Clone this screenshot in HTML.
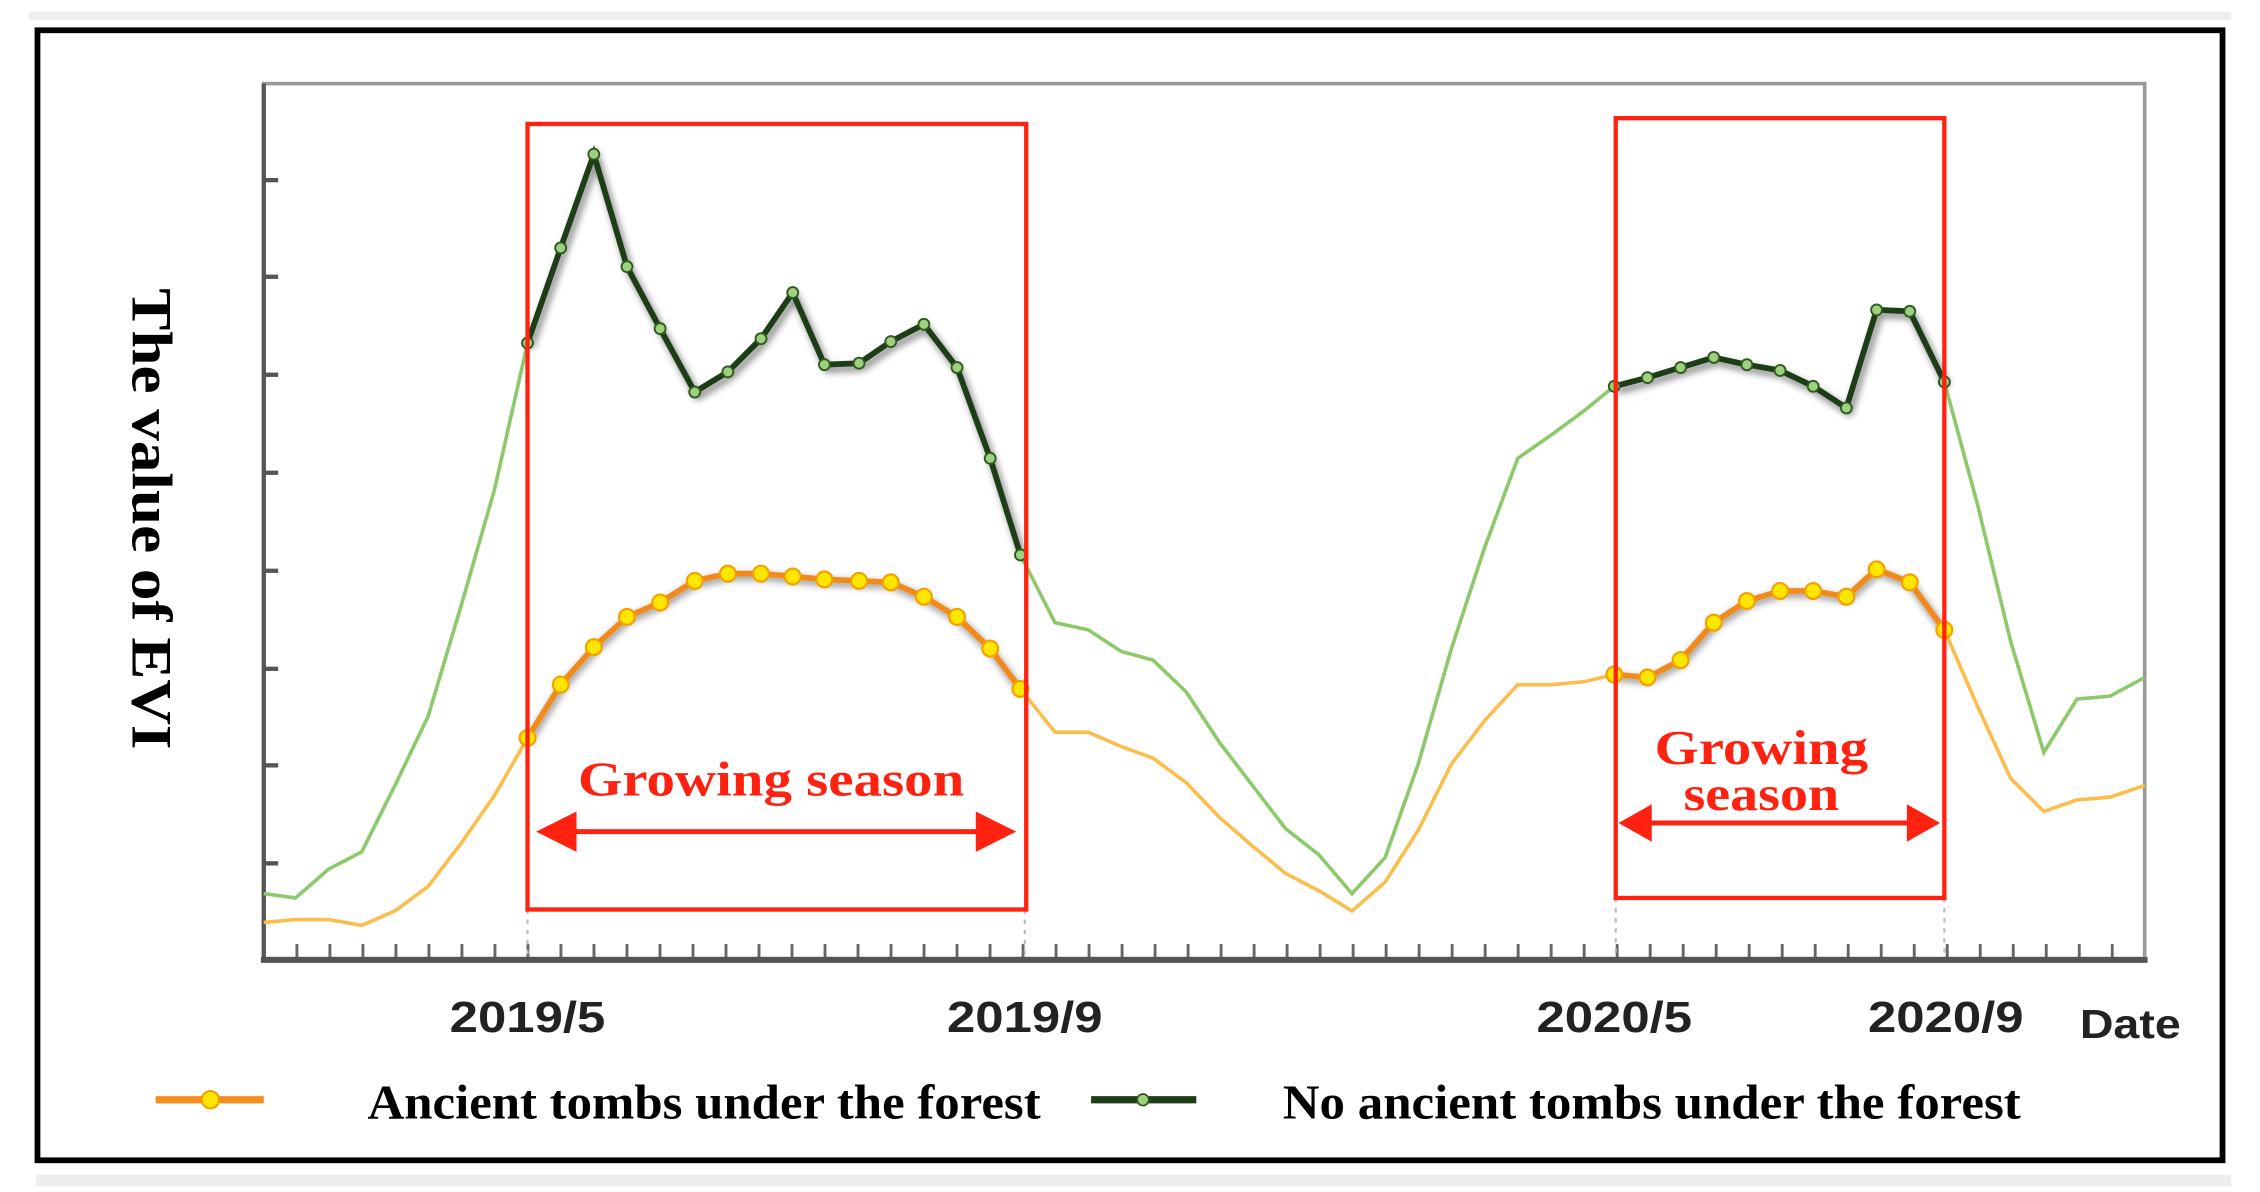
<!DOCTYPE html>
<html><head><meta charset="utf-8"><style>
html,body{margin:0;padding:0;background:#fff;}
svg{display:block;}
</style></head><body>
<svg width="2260" height="1192" viewBox="0 0 1568 827" preserveAspectRatio="none" xmlns="http://www.w3.org/2000/svg">
<defs>
<filter id="sh" x="-10%" y="-10%" width="120%" height="120%"><feGaussianBlur in="SourceAlpha" stdDeviation="2.5"/><feOffset dx="2" dy="3"/><feComponentTransfer><feFuncA type="linear" slope="0.55"/></feComponentTransfer><feMerge><feMergeNode/><feMergeNode in="SourceGraphic"/></feMerge></filter>
<filter id="shb" x="-10%" y="-10%" width="120%" height="120%"><feGaussianBlur in="SourceAlpha" stdDeviation="2.5"/><feOffset dx="1" dy="2"/><feComponentTransfer><feFuncA type="linear" slope="0.5"/></feComponentTransfer><feMerge><feMergeNode/><feMergeNode in="SourceGraphic"/></feMerge></filter>
<pattern id="tk" x="205" y="0" width="22.9" height="827" patternUnits="userSpaceOnUse"><rect x="0" y="0" width="2" height="827" fill="#666"/></pattern>
<g id="gm"><circle r="3.8" fill="#9fd080" stroke="#2e5a20" stroke-width="1.3"/></g>
<g id="om"><circle r="5.5" fill="#ffe600" stroke="#f5a000" stroke-width="1.5"/></g>
</defs>
<rect x="0" y="0" width="1568" height="827" fill="#fff"/>
<rect x="20" y="8" width="1528" height="6" fill="#eee"/>
<rect x="25" y="815" width="1523" height="8" fill="#eee"/>
<rect x="26" y="21" width="1516" height="784" fill="#fff" stroke="#000" stroke-width="4"/>
<rect x="183" y="58" width="1305" height="607" fill="none" stroke="#999" stroke-width="2.5"/>
<line x1="183" y1="58" x2="183" y2="667" stroke="#555" stroke-width="3"/>
<rect x="195" y="655" width="1290" height="10" fill="url(#tk)"/>
<line x1="181" y1="666" x2="1490" y2="666" stroke="#555" stroke-width="4"/>
<g stroke="#555" stroke-width="3">
<line x1="183" y1="125" x2="193" y2="125"/><line x1="183" y1="192" x2="193" y2="192"/><line x1="183" y1="260" x2="193" y2="260"/><line x1="183" y1="328" x2="193" y2="328"/><line x1="183" y1="396" x2="193" y2="396"/><line x1="183" y1="464" x2="193" y2="464"/><line x1="183" y1="531" x2="193" y2="531"/><line x1="183" y1="599" x2="193" y2="599"/>
</g>
<g stroke="#bbb" stroke-width="1.5" stroke-dasharray="3,4">
<line x1="366" y1="631" x2="366" y2="665"/><line x1="711" y1="631" x2="711" y2="665"/><line x1="1121" y1="623" x2="1121" y2="665"/><line x1="1349" y1="623" x2="1349" y2="665"/>
</g>
<polyline fill="none" stroke="#8cc96a" stroke-width="2.5" points="183,620 205,623 228,603 251,591 274,545 297,497 320,420 343,340 366,238"/>
<polyline fill="none" stroke="#8cc96a" stroke-width="2.5" points="708,385 732,432 755,437 778,452 800,458 823,480 846,515 869,545 892,575 915,593 938,620 961,595 984,530 1007,450 1030,380 1053,318 1076,302 1099,285 1120,268"/>
<polyline fill="none" stroke="#8cc96a" stroke-width="2.5" points="1349,265 1372,350 1395,445 1418,522 1441,485 1464,483 1488,470"/>
<polyline fill="none" stroke="#fbbd4c" stroke-width="2.5" points="183,640 205,638 228,638 251,642 274,632 297,615 320,585 343,552 366,512"/>
<polyline fill="none" stroke="#fbbd4c" stroke-width="2.5" points="708,478 732,508 755,508 778,518 800,526 823,543 846,567 869,587 892,606 915,618 938,632 961,612 984,576 1007,530 1030,500 1053,475 1076,475 1099,473 1120,468"/>
<polyline fill="none" stroke="#fbbd4c" stroke-width="2.5" points="1349,437 1372,490 1395,540 1418,563 1441,555 1464,553 1488,545"/>
<g filter="url(#sh)">
<polyline fill="none" stroke="#1f3d17" stroke-width="4" points="366,238 389,172 412,107 435,185 458,228 482,272 505,258 528,235 550,203 572,253 596,252 618,237 641,225 664,255 687,318 708,385"/>
<polyline fill="none" stroke="#1f3d17" stroke-width="4" points="1120,268 1143,262 1166,255 1189,248 1212,253 1235,257 1258,268 1281,283 1302,215 1325,216 1349,265"/>
</g>
<g filter="url(#shb)">
<polyline fill="none" stroke="#f08a1c" stroke-width="4" points="366,512 389,475 412,449 435,428 458,418 482,403 505,398 528,398 550,400 572,402 596,403 618,404 641,414 664,428 687,450 708,478"/>
<polyline fill="none" stroke="#f08a1c" stroke-width="4" points="1120,468 1143,470 1166,458 1189,432 1212,417 1235,410 1258,410 1281,414 1302,395 1325,404 1349,437"/>
</g>
<g>
<use href="#gm" x="366" y="238"/><use href="#gm" x="389" y="172"/><use href="#gm" x="412" y="107"/><use href="#gm" x="435" y="185"/><use href="#gm" x="458" y="228"/><use href="#gm" x="482" y="272"/><use href="#gm" x="505" y="258"/><use href="#gm" x="528" y="235"/><use href="#gm" x="550" y="203"/><use href="#gm" x="572" y="253"/><use href="#gm" x="596" y="252"/><use href="#gm" x="618" y="237"/><use href="#gm" x="641" y="225"/><use href="#gm" x="664" y="255"/><use href="#gm" x="687" y="318"/><use href="#gm" x="708" y="385"/>
<use href="#gm" x="1120" y="268"/><use href="#gm" x="1143" y="262"/><use href="#gm" x="1166" y="255"/><use href="#gm" x="1189" y="248"/><use href="#gm" x="1212" y="253"/><use href="#gm" x="1235" y="257"/><use href="#gm" x="1258" y="268"/><use href="#gm" x="1281" y="283"/><use href="#gm" x="1302" y="215"/><use href="#gm" x="1325" y="216"/><use href="#gm" x="1349" y="265"/>
<use href="#om" x="366" y="512"/><use href="#om" x="389" y="475"/><use href="#om" x="412" y="449"/><use href="#om" x="435" y="428"/><use href="#om" x="458" y="418"/><use href="#om" x="482" y="403"/><use href="#om" x="505" y="398"/><use href="#om" x="528" y="398"/><use href="#om" x="550" y="400"/><use href="#om" x="572" y="402"/><use href="#om" x="596" y="403"/><use href="#om" x="618" y="404"/><use href="#om" x="641" y="414"/><use href="#om" x="664" y="428"/><use href="#om" x="687" y="450"/><use href="#om" x="708" y="478"/>
<use href="#om" x="1120" y="468"/><use href="#om" x="1143" y="470"/><use href="#om" x="1166" y="458"/><use href="#om" x="1189" y="432"/><use href="#om" x="1212" y="417"/><use href="#om" x="1235" y="410"/><use href="#om" x="1258" y="410"/><use href="#om" x="1281" y="414"/><use href="#om" x="1302" y="395"/><use href="#om" x="1325" y="404"/><use href="#om" x="1349" y="437"/>
</g>
<rect x="366" y="86" width="346" height="545" fill="none" stroke="#f21" stroke-width="3"/>
<rect x="1121" y="82" width="228" height="541" fill="none" stroke="#f21" stroke-width="3"/>
<g font-family="Liberation Serif, serif" font-weight="bold" fill="#f21" text-anchor="middle">
<text x="535" y="552" font-size="34" textLength="268" lengthAdjust="spacingAndGlyphs">Growing season</text>
<text x="1222" y="530" font-size="34" textLength="148" lengthAdjust="spacingAndGlyphs">Growing</text>
<text x="1222" y="562" font-size="34" textLength="108" lengthAdjust="spacingAndGlyphs">season</text>
</g>
<g stroke="#f21" stroke-width="3.5"><line x1="385" y1="577" x2="692" y2="577"/><line x1="1137" y1="571" x2="1332" y2="571"/></g>
<g fill="#f21">
<polygon points="372,577 400,563 400,591"/><polygon points="705,577 677,563 677,591"/>
<polygon points="1123,571 1146,558 1146,584"/><polygon points="1346,571 1323,558 1323,584"/>
</g>
<g font-family="Liberation Sans, sans-serif" font-weight="bold" fill="#222" font-size="30" text-anchor="middle">
<text x="366" y="716" textLength="108" lengthAdjust="spacingAndGlyphs">2019/5</text><text x="711" y="716" textLength="108" lengthAdjust="spacingAndGlyphs">2019/9</text><text x="1120" y="716" textLength="108" lengthAdjust="spacingAndGlyphs">2020/5</text><text x="1350" y="716" textLength="108" lengthAdjust="spacingAndGlyphs">2020/9</text>
<text x="1478" y="720" font-size="28" textLength="70" lengthAdjust="spacingAndGlyphs">Date</text>
</g>
<text transform="translate(92,360) rotate(90)" font-family="Liberation Serif, serif" font-weight="bold" font-size="40" text-anchor="middle" fill="#000" textLength="320" lengthAdjust="spacingAndGlyphs">The value of EVI</text>
<line x1="108" y1="763" x2="183" y2="763" stroke="#f68c1e" stroke-width="5"/>
<circle cx="146" cy="763" r="6" fill="#ffe600" stroke="#f5a000" stroke-width="1.5"/>
<line x1="757" y1="763" x2="830" y2="763" stroke="#1f3d17" stroke-width="5"/>
<circle cx="793" cy="763" r="4" fill="#9fd080" stroke="#2e5a20" stroke-width="1.2"/>
<g font-family="Liberation Serif, serif" font-weight="bold" font-size="34" fill="#000">
<text x="255" y="776" textLength="467" lengthAdjust="spacingAndGlyphs">Ancient tombs under the forest</text>
<text x="890" y="776" textLength="512" lengthAdjust="spacingAndGlyphs">No ancient tombs under the forest</text>
</g>
</svg>
</body></html>
